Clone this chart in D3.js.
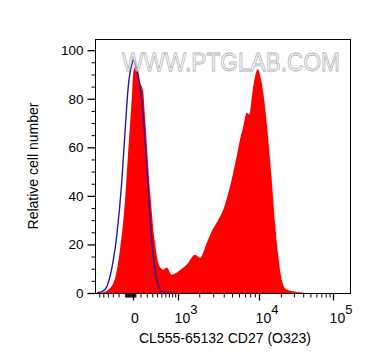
<!DOCTYPE html>
<html>
<head>
<meta charset="utf-8">
<script src="https://cdn.jsdelivr.net/npm/d3@7"></script>
<style>
  body { margin: 0; background: #fff; }
  svg { display: block; font-family: "Liberation Sans", Arial, sans-serif; }
</style>
</head>
<body>
<div id="chart"></div>
<script>
// sample (CD27 stained) histogram, fluorescence value vs relative count
var sampleX = [-580, -461, -292, -177, -103, -58, -15, 4, 25, 47, 69, 93, 118, 143, 170, 199, 226, 257, 289, 321, 356, 392, 427, 508, 548, 640, 786, 894, 1011, 1349, 1757, 2045, 2489, 2870, 3450, 3954, 4523, 4950, 5646, 6153, 6702, 7314, 7817, 8657, 9679, 10902, 12110, 13447, 14971, 16612, 18425, 20495, 23955, 32690, 44535];
var sampleY = [0, 0.5, 4, 18, 38, 59, 80, 91, 93, 92, 91, 87, 85, 82.5, 72.8, 62, 52, 42, 34, 26, 20.6, 15.5, 12.4, 10, 9.6, 10.5, 7.5, 8, 8.9, 11.7, 15.8, 14.5, 20.6, 25.4, 30.2, 34.4, 41.2, 46.7, 56.3, 63.2, 68.7, 74.2, 73.5, 85.2, 92.1, 86.6, 77, 63.2, 46.7, 28.9, 15.1, 5.5, 1.4, 0.4, 0];

// isotype control histogram
var controlX = [-659, -580, -461, -355, -232, -151, -103, -58, -15, 4, 47, 93, 143, 199, 257, 321, 392, 508, 734];
var controlY = [0, 0.3, 1.4, 6.8, 23.3, 45.4, 66, 85.2, 94.1, 96, 92, 85.2, 72.8, 52.2, 31.6, 15.1, 5.5, 0.7, 0];

var yTicks = [0, 20, 40, 60, 80, 100];
var xTicks = [0, 1e3, 1e4, 1e5];
var xTickExp = ["", "3", "4", "5"];

var W = 372, H = 364;
var margin = {top: 39, right: 21, bottom: 71, left: 95};

var svg = d3.select("#chart").append("svg")
    .attr("width", W)
    .attr("height", H);

// logicle-like display: symlog, pinned to the decade positions
var x = d3.scaleSymlog()
    .constant(500)
    .domain([-700, 0, 1e3, 1e4, 1e5, 1.7e5])
    .range([95.5, 133, 178, 259, 333, 351]);

var y = d3.scaleLinear()
    .domain([0, 104.6])
    .range([H - margin.bottom, margin.top]);

var sample = sampleX.map(function(d, i){ return [d, sampleY[i]] });
var control = controlX.map(function(d, i){ return [d, controlY[i]] });

var area = d3.area()
    .x(function(d){ return x(d[0]) })
    .y0(y(0))
    .y1(function(d){ return y(d[1]) })
    .curve(d3.curveMonotoneX);

var line = d3.line()
    .x(function(d){ return x(d[0]) })
    .y(function(d){ return y(d[1]) })
    .curve(d3.curveMonotoneX);

svg.append("path")
    .datum(sample)
    .attr("d", area)
    .attr("fill", "#ff0000");

svg.append("path")
    .datum(control)
    .attr("d", line)
    .attr("fill", "none")
    .attr("stroke", "#2a1aa0")
    .attr("stroke-width", 1.4);

// watermark
svg.append("text")
    .attr("x", 122)
    .attr("y", 71)
    .attr("textLength", 218)
    .attr("lengthAdjust", "spacingAndGlyphs")
    .style("font-size", "25px")
    .style("fill", "#ffffff")
    .style("fill-opacity", 0.55)
    .style("stroke", "#b0b0b0")
    .style("stroke-width", 0.8)
    .text("WWW.PTGLAB.COM");

// frame
svg.append("rect")
    .attr("x", margin.left + 0.5)
    .attr("y", margin.top + 0.5)
    .attr("width", W - margin.left - margin.right - 1)
    .attr("height", H - margin.top - margin.bottom)
    .attr("fill", "none")
    .attr("stroke", "#000");

// y axis
var yMinor = d3.range(0, 101, 5).filter(function(v){ return v % 20 != 0 });
svg.append("g")
    .attr("transform", "translate(" + (margin.left + 0.5) + ",0)")
    .call(d3.axisLeft(y).tickValues(yMinor).tickSize(4).tickFormat(""))
    .call(function(g){ g.select(".domain").remove() });

var yAxis = svg.append("g")
    .attr("transform", "translate(" + (margin.left + 0.5) + ",0)")
    .call(d3.axisLeft(y).tickValues(yTicks).tickSize(8).tickPadding(4))
    .call(function(g){ g.select(".domain").remove() });
yAxis.selectAll("text").style("font-size", "13.5px").attr("fill", "#000");
yAxis.selectAll("line").attr("stroke-width", 1.3);

// x axis minor ticks
var xMinor = [-600, -500, -400, -300, -200, -100, 10, 20, 30];
d3.range(-90, 0, 10).forEach(function(v){ xMinor.push(v) });
[100, 1000, 10000].forEach(function(dec){
    d3.range(1, 10).forEach(function(k){ if (k * dec != 1000 && k * dec != 10000) xMinor.push(k * dec) });
});
var yBase = H - margin.bottom + 0.5;
svg.append("g")
    .attr("transform", "translate(0," + yBase + ")")
    .call(d3.axisBottom(x).tickValues(xMinor).tickSize(4).tickFormat(""))
    .call(function(g){ g.select(".domain").remove() });

svg.append("g")
    .attr("transform", "translate(0," + yBase + ")")
    .call(d3.axisBottom(x).tickValues(xTicks).tickSize(7).tickFormat(""))
    .call(function(g){ g.select(".domain").remove() })
    .selectAll("line").attr("stroke-width", 1.3);

// x tick labels with superscript exponents
var xl = svg.append("g").selectAll("text")
    .data(xTicks)
    .enter()
    .append("text")
    .attr("x", function(d){ return d == 0 ? x(d) + 2 : x(d) + 8 })
    .attr("y", 323)
    .attr("text-anchor", "middle")
    .style("font-size", "14px");
xl.append("tspan").text(function(d, i){ return i == 0 ? "0" : "10" });
xl.append("tspan")
    .attr("dy", -9)
    .style("font-size", "13px")
    .text(function(d, i){ return xTickExp[i] });

// axis titles
svg.append("text")
    .attr("x", 225)
    .attr("y", 343)
    .attr("text-anchor", "middle")
    .style("font-size", "14px")
    .text("CL555-65132 CD27 (O323)");

svg.append("text")
    .attr("transform", "translate(38,166) rotate(-90)")
    .attr("text-anchor", "middle")
    .style("font-size", "14px")
    .text("Relative cell number");
</script>
</body>
</html>
